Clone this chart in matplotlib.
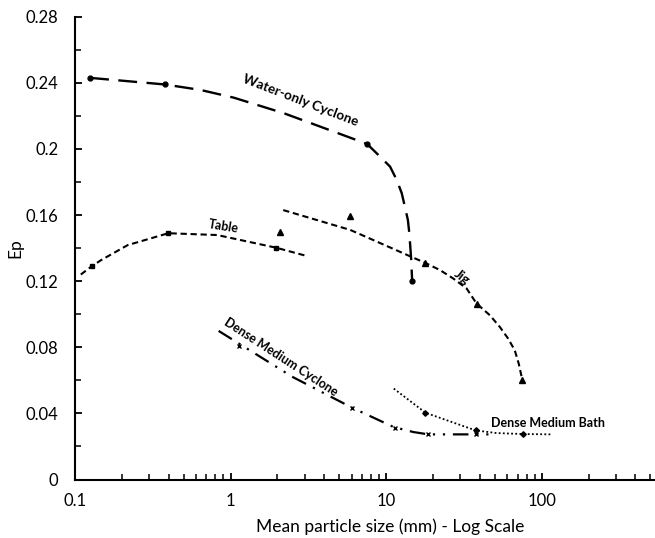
import matplotlib
matplotlib.use("Agg")
import matplotlib.pyplot as plt

plt.rcParams['font.family'] = ['Lato', 'DejaVu Sans']

# ---- data ----
# Water-only cyclone
wo_x = [0.125, 0.378, 7.55, 14.7]
wo_y = [0.243, 0.239, 0.203, 0.120]
wo_cx = [0.125, 0.378, 0.64, 1.05, 2.2, 4.6, 7.55, 9.15, 10.6, 11.7, 12.6, 13.2,
         13.8, 14.1, 14.3, 14.5, 14.7]
wo_cy = [0.243, 0.239, 0.2357, 0.231, 0.2216, 0.2105, 0.203, 0.1953, 0.1893, 0.1812,
         0.1732, 0.165, 0.157, 0.1489, 0.1408, 0.1327, 0.120]

# Table
tb_x = [0.128, 0.398, 1.97]
tb_y = [0.129, 0.149, 0.140]
tb_cx = [0.109, 0.128, 0.147, 0.218, 0.398, 0.822, 1.97, 3.07]
tb_cy = [0.124, 0.129, 0.1327, 0.1418, 0.149, 0.1479, 0.1402, 0.1353]

# Jig
jg_x = [2.09, 5.88, 17.9, 38.1, 75.0]
jg_y = [0.1495, 0.1596, 0.131, 0.106, 0.0604]
jg_cx = [2.18, 5.88, 14.3, 17.9, 22.2, 27.0, 32.9, 38.1, 46.4, 53.8, 60.8, 67.1, 71.2, 75.0]
jg_cy = [0.163, 0.151, 0.135, 0.131, 0.1267, 0.1216, 0.1156, 0.1065, 0.0994, 0.0923,
         0.0853, 0.0782, 0.0701, 0.0604]

# Dense medium cyclone
dmc_x = [1.14, 6.05, 11.4, 18.7, 37.6]
dmc_y = [0.0808, 0.0434, 0.0311, 0.0273, 0.0273]
dmc_cx = [0.838, 2.51, 6.05, 11.2, 15.0, 18.7, 37.6, 47.6]
dmc_cy = [0.0899, 0.062, 0.0434, 0.0317, 0.0287, 0.0273, 0.0273, 0.0273]

# Dense medium bath
dmb_x = [17.9, 37.6, 75.9]
dmb_y = [0.0404, 0.0297, 0.0275]
dmb_cx = [11.2, 17.9, 37.6, 51.2, 75.9, 116]
dmb_cy = [0.055, 0.0404, 0.0297, 0.0281, 0.0275, 0.0273]

y_ticks = [0, 0.04, 0.08, 0.12, 0.16, 0.2, 0.24, 0.28]
y_tick_labels = ['0', '0.04', '0.08', '0.12', '0.16', '0.2', '0.24', '0.28']
x_ticks = [0.1, 1, 10, 100]
x_tick_labels = ['0.1', '1', '10', '100']

W, H = 655, 538
fig = plt.figure(figsize=(W / 100, H / 100), dpi=100)
ax = fig.add_axes([75 / W, (H - 479.5) / H, 1 - 75 / W, (479.5 - 16.7) / H])

k = 'black'
ax.plot(wo_cx, wo_cy, color=k, lw=1.7, dashes=(8, 4))
ax.plot(wo_x, wo_y, ls='none', marker='o', ms=3.5, color=k)

ax.plot(tb_cx, tb_cy, color=k, lw=1.5, dashes=(3, 1.8))
ax.plot(tb_x, tb_y, ls='none', marker='s', ms=3.5, color=k)

ax.plot(jg_cx, jg_cy, color=k, lw=1.5, dashes=(3, 1.8))
ax.plot(jg_x, jg_y, ls='none', marker='^', ms=4.5, color=k)

ax.plot(dmc_cx, dmc_cy, color=k, lw=1.6, dashes=(7, 3.5, 1, 3.5, 1, 3.5))
ax.plot(dmc_x, dmc_y, ls='none', marker='x', ms=3.5, mew=1.0, color=k)

ax.plot(dmb_cx, dmb_cy, color=k, lw=1.3, dashes=(1, 1.3))
ax.plot(dmb_x, dmb_y, ls='none', marker='D', ms=2.8, color=k)

ax.set_xscale('log')
ax.set_xlim(0.1, 535)
ax.set_ylim(0, 0.28)
ax.set_yticks(y_ticks)
ax.set_yticklabels(y_tick_labels)
ax.set_yticks([0.02, 0.06, 0.10, 0.14, 0.18, 0.22, 0.26], minor=True)
ax.set_xticks(x_ticks)
ax.set_xticklabels(x_tick_labels)
ax.xaxis.set_minor_formatter(matplotlib.ticker.NullFormatter())

for s in ['top', 'right']:
    ax.spines[s].set_visible(False)
for s in ['left', 'bottom']:
    ax.spines[s].set_linewidth(1.5)
ax.tick_params(axis='both', which='major', direction='in', length=5, width=1.3,
               labelsize=12, pad=10)
ax.tick_params(axis='both', which='minor', direction='in', length=4, width=1.1)
ax.tick_params(axis='y', which='major', pad=12)

fig.text(390 / W, 1 - 527 / H, 'Mean particle size (mm) - Log Scale', ha='center', va='center',
         fontsize=12.5)
fig.text(15 / W, 1 - 248 / H, 'Ep', ha='center', va='center', rotation=90, fontsize=12.5)

tkw = dict(ha='center', va='center', rotation_mode='anchor', fontweight='bold')
ax.text(2.8, 0.2295, 'Water-only Cyclone', rotation=-21, fontsize=9.8, **tkw)
ax.text(0.90, 0.153, 'Table', rotation=-9, fontsize=9, **tkw)
ax.text(30.6, 0.1225, 'Jig', rotation=-38, fontsize=9.5, **tkw)
ax.text(2.12, 0.0743, 'Dense Medium Cyclone', rotation=-33, fontsize=9, **tkw)
ax.text(47, 0.0341, 'Dense Medium Bath', ha='left', va='center', fontsize=9, fontweight='bold')

fig.savefig('out.png', dpi=100)
